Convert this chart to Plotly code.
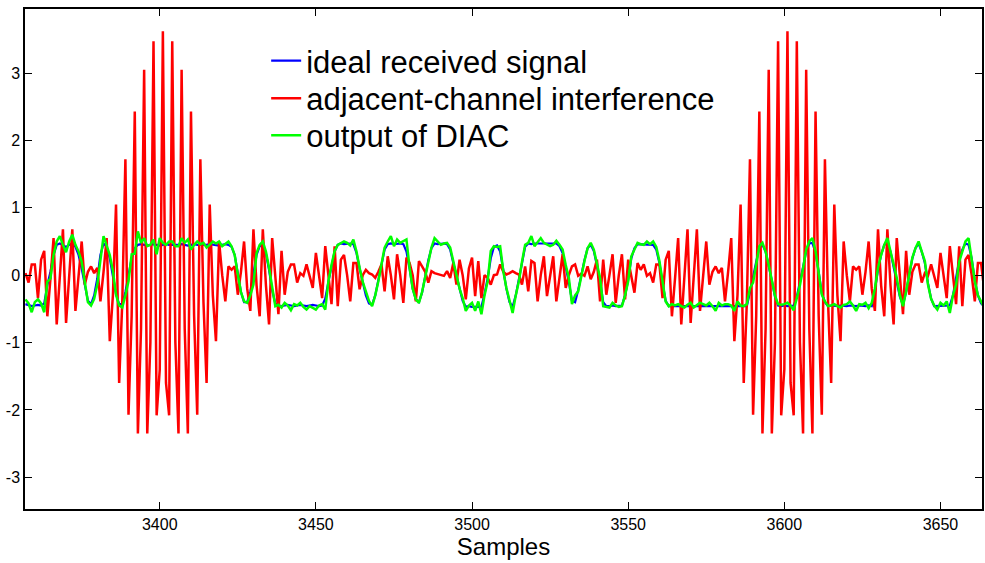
import plotly.graph_objects as go

# sample index of first value
start_sample = 3357

# ideal received signal (blue)
ideal = [
    -0.43, -0.45, -0.46, -0.45, -0.44, -0.45, -0.42, -0.15, 0.05, 0.30,
    0.45, 0.47, 0.45, 0.42, 0.45, 0.47, 0.42, 0.30, 0.10, -0.15,
    -0.38, -0.43, -0.30, -0.05, 0.30, 0.47, 0.42, 0.25, 0.00, -0.28,
    -0.43, -0.43, -0.25, 0.00, 0.25, 0.40, 0.45, 0.46, 0.45, 0.44,
    0.45, 0.46, 0.45, 0.44, 0.45, 0.46, 0.45, 0.45, 0.44, 0.45,
    0.46, 0.45, 0.44, 0.45, 0.46, 0.45, 0.45, 0.44, 0.45, 0.46,
    0.45, 0.45, 0.44, 0.45, 0.46, 0.45, 0.42, 0.30, 0.02, -0.25,
    -0.40, -0.40, -0.25, 0.00, 0.30, 0.43, 0.45, 0.32, 0.08, -0.22,
    -0.42, -0.45, -0.46, -0.45, -0.44, -0.45, -0.46, -0.45, -0.44, -0.45,
    -0.46, -0.45, -0.44, -0.45, -0.46, -0.45, -0.35, -0.10, 0.15, 0.35,
    0.45, 0.47, 0.46, 0.47, 0.47, 0.46, 0.33, 0.10, -0.12, -0.30,
    -0.42, -0.44, -0.30, -0.07, 0.17, 0.38, 0.46, 0.47, 0.46, 0.47,
    0.47, 0.46, 0.35, 0.10, -0.20, -0.36, -0.40, -0.26, -0.02, 0.22,
    0.40, 0.47, 0.46, 0.47, 0.47, 0.46, 0.38, 0.18, 0.00, -0.22,
    -0.38, -0.47, -0.46, -0.47, -0.47, -0.46, -0.47, -0.28, -0.05, 0.25,
    0.42, 0.44, 0.35, 0.08, -0.20, -0.40, -0.47, -0.30, -0.05, 0.22,
    0.42, 0.47, 0.46, 0.47, 0.47, 0.46, 0.47, 0.47, 0.46, 0.47,
    0.47, 0.43, 0.33, 0.12, -0.10, -0.38, -0.40, -0.22, 0.02, 0.22,
    0.40, 0.45, 0.36, 0.15, -0.08, -0.40, -0.46, -0.46, -0.45, -0.46,
    -0.46, -0.45, -0.30, -0.07, 0.25, 0.40, 0.46, 0.46, 0.45, 0.46,
    0.46, 0.45, 0.38, 0.18, -0.12, -0.38, -0.46, -0.46, -0.45, -0.46,
    -0.46, -0.45, -0.46, -0.46, -0.45, -0.46, -0.46, -0.45, -0.46, -0.46,
    -0.45, -0.46, -0.46, -0.45, -0.46, -0.46, -0.45, -0.46, -0.46, -0.45,
    -0.46, -0.46, -0.25, -0.05, 0.20, 0.42, 0.45, 0.35, 0.15, -0.08,
    -0.32, -0.45, -0.46, -0.45, -0.46, -0.45, -0.45, -0.32, -0.12, 0.12,
    0.35, 0.47, 0.48, 0.33, 0.05, -0.27, -0.40, -0.46, -0.45, -0.46,
    -0.46, -0.45, -0.46, -0.46, -0.45, -0.46, -0.46, -0.45, -0.46, -0.46,
    -0.45, -0.46, -0.22, 0.08, 0.30, 0.45, 0.47, 0.35, 0.12, -0.08,
    -0.32, -0.44, -0.25, 0.00, 0.25, 0.40, 0.47, 0.35, 0.18, -0.12,
    -0.35, -0.46, -0.46, -0.45, -0.46, -0.46, -0.45, -0.30, -0.05, 0.22,
    0.38, 0.47, 0.45, 0.25, -0.08, -0.30, -0.42, -0.46,
]

# adjacent-channel interference (red)
interference = [
    0.03, -0.11, 0.16, 0.16, -0.34, 0.23, 0.36, -0.61, -0.05, 0.55,
    -0.73, 0.00, 0.68, -0.71, -0.05, 0.68, -0.53, -0.05, 0.50, -0.14,
    0.05, 0.13, 0.03, 0.11, -0.39, 0.05, 0.55, -0.98, -0.30, 1.05,
    -1.60, -0.40, 1.72, -2.07, -0.60, 2.43, -2.35, -0.80, 3.05, -2.35,
    -1.00, 3.47, -2.08, -1.40, 3.62, -1.60, -2.08, 3.47, -1.00, -2.35,
    3.05, -0.80, -2.35, 2.43, -0.60, -2.07, 1.72, -0.40, -1.60, 1.05,
    -0.30, -0.98, 0.50, 0.00, -0.39, 0.13, 0.08, 0.13, -0.29, 0.05,
    0.50, -0.20, -0.53, 0.68, -0.15, -0.61, 0.68, -0.15, -0.73, 0.55,
    -0.05, -0.58, 0.36, -0.29, 0.05, 0.16, 0.16, -0.11, 0.03, -0.01,
    0.16, 0.00, -0.19, 0.33, 0.00, -0.34, 0.43, 0.00, -0.43, 0.43,
    -0.46, 0.23, 0.30, 0.00, -0.39, 0.18, 0.18, -0.21, 0.00, 0.08,
    0.03, 0.01, -0.04, 0.05, 0.16, -0.24, 0.28, 0.00, -0.36, 0.31,
    0.00, -0.41, 0.26, 0.18, 0.00, -0.39, 0.21, 0.13, 0.05, -0.11,
    0.06, 0.03, 0.02, 0.01, -0.01, 0.06, -0.04, 0.18, -0.14, 0.23,
    0.00, -0.36, 0.10, 0.26, -0.31, 0.21, -0.34, 0.00, -0.04, -0.14,
    0.00, 0.01, 0.16, 0.05, 0.01, 0.03, 0.06, 0.03, 0.01, -0.14,
    0.13, -0.24, 0.21, 0.18, -0.39, 0.00, 0.28, -0.31, 0.00, 0.28,
    -0.39, 0.00, 0.31, -0.19, 0.00, 0.13, 0.16, -0.01, 0.02, -0.01,
    0.13, -0.06, 0.05, 0.23, -0.39, 0.23, -0.29, 0.00, 0.31, -0.41,
    0.00, 0.31, -0.36, 0.23, 0.00, -0.26, 0.18, 0.08, 0.16, -0.01,
    0.03, -0.11, 0.16, 0.16, -0.34, 0.23, 0.36, -0.61, -0.05, 0.55,
    -0.73, 0.00, 0.68, -0.71, -0.05, 0.68, -0.53, -0.05, 0.50, -0.14,
    0.05, 0.13, 0.03, 0.11, -0.39, 0.05, 0.55, -0.98, -0.30, 1.05,
    -1.60, -0.40, 1.72, -2.07, -0.60, 2.43, -2.35, -0.80, 3.05, -2.35,
    -1.00, 3.47, -2.08, -1.40, 3.62, -1.60, -2.08, 3.47, -1.00, -2.35,
    3.05, -0.80, -2.35, 2.43, -0.60, -2.07, 1.72, -0.40, -1.60, 1.05,
    -0.30, -0.98, 0.50, 0.00, -0.39, 0.13, 0.08, 0.13, -0.29, 0.05,
    0.50, -0.20, -0.53, 0.68, -0.15, -0.61, 0.68, -0.15, -0.73, 0.55,
    -0.05, -0.58, 0.36, -0.29, 0.05, 0.16, 0.16, -0.11, 0.03, -0.01,
    0.16, 0.00, -0.19, 0.33, 0.00, -0.34, 0.43, 0.00, -0.43, 0.43,
    -0.46, 0.23, 0.30, 0.00, -0.39, 0.18, 0.18, -0.21,
]

# output of DIAC (green)
diac_output = [
    -0.36, -0.42, -0.55, -0.40, -0.36, -0.42, -0.55, -0.10, -0.05, 0.30,
    0.50, 0.58, 0.45, 0.34, 0.50, 0.60, 0.45, 0.35, 0.20, -0.10,
    -0.40, -0.45, -0.35, -0.14, 0.25, 0.58, 0.44, 0.30, 0.06, -0.29,
    -0.45, -0.48, -0.30, -0.09, 0.31, 0.32, 0.65, 0.48, 0.55, 0.43,
    0.45, 0.53, 0.31, 0.55, 0.48, 0.45, 0.50, 0.50, 0.43, 0.43,
    0.55, 0.48, 0.53, 0.38, 0.45, 0.50, 0.46, 0.48, 0.41, 0.45,
    0.50, 0.47, 0.50, 0.43, 0.46, 0.50, 0.43, 0.30, 0.01, -0.25,
    -0.39, -0.41, -0.30, -0.14, 0.33, 0.45, 0.50, 0.35, 0.11, -0.20,
    -0.46, -0.44, -0.48, -0.41, -0.45, -0.52, -0.43, -0.45, -0.41, -0.47,
    -0.51, -0.46, -0.48, -0.51, -0.45, -0.43, -0.51, -0.09, 0.15, 0.36,
    0.45, 0.48, 0.50, 0.48, 0.44, 0.53, 0.35, 0.11, -0.10, -0.24,
    -0.38, -0.46, -0.30, -0.09, 0.15, 0.41, 0.50, 0.58, 0.43, 0.53,
    0.48, 0.50, 0.53, 0.11, -0.20, -0.36, -0.41, -0.25, -0.04, 0.20,
    0.41, 0.55, 0.50, 0.45, 0.47, 0.48, 0.41, 0.20, 0.01, -0.20,
    -0.34, -0.53, -0.45, -0.41, -0.53, -0.39, -0.58, -0.30, -0.09, 0.36,
    0.43, 0.42, 0.43, 0.06, -0.19, -0.39, -0.56, -0.30, -0.09, 0.20,
    0.45, 0.48, 0.58, 0.43, 0.50, 0.55, 0.48, 0.45, 0.43, 0.45,
    0.51, 0.45, 0.38, 0.15, -0.04, -0.43, -0.30, -0.24, 0.00, 0.21,
    0.40, 0.48, 0.38, 0.15, -0.04, -0.46, -0.47, -0.48, -0.41, -0.45,
    -0.47, -0.46, -0.30, -0.09, 0.28, 0.38, 0.48, 0.46, 0.45, 0.50,
    0.46, 0.50, 0.42, 0.21, -0.10, -0.39, -0.46, -0.43, -0.45, -0.43,
    -0.46, -0.48, -0.44, -0.41, -0.48, -0.45, -0.41, -0.43, -0.45, -0.41,
    -0.46, -0.53, -0.41, -0.45, -0.43, -0.43, -0.45, -0.53, -0.39, -0.45,
    -0.46, -0.43, -0.19, -0.11, 0.15, 0.43, 0.48, 0.35, 0.15, -0.06,
    -0.30, -0.43, -0.44, -0.43, -0.41, -0.45, -0.52, -0.34, -0.15, 0.10,
    0.38, 0.50, 0.55, 0.36, 0.06, -0.29, -0.39, -0.46, -0.45, -0.43,
    -0.46, -0.48, -0.44, -0.43, -0.39, -0.45, -0.53, -0.43, -0.44, -0.41,
    -0.49, -0.41, -0.20, 0.11, 0.30, 0.45, 0.55, 0.36, 0.15, -0.04,
    -0.30, -0.46, -0.24, 0.00, 0.26, 0.40, 0.50, 0.35, 0.21, -0.14,
    -0.35, -0.45, -0.51, -0.41, -0.45, -0.39, -0.56, -0.30, -0.14, 0.20,
    0.36, 0.50, 0.55, 0.26, -0.09, -0.30, -0.39, -0.48,
]

x_tick_vals = [3400, 3450, 3500, 3550, 3600, 3650]
y_tick_vals = [-3, -2, -1, 0, 1, 2, 3]
y_tick_text = ["-3", "-2", "-1", "0", "1", "2", "3"]

def samples(n):
    return list(range(start_sample, start_sample + n))

FONT = "Liberation Sans, Arial, Helvetica, sans-serif"

fig = go.Figure()
fig.add_trace(go.Scatter(x=samples(len(ideal)), y=ideal, mode="lines",
                         name="ideal received signal", legend="legend",
                         line=dict(color="#0000FF", width=2.2)))
fig.add_trace(go.Scatter(x=samples(len(interference)), y=interference, mode="lines",
                         name="adjacent-channel interference", legend="legend2",
                         line=dict(color="#FF0000", width=2.5)))
fig.add_trace(go.Scatter(x=samples(len(diac_output)), y=diac_output, mode="lines",
                         name="output of DIAC", legend="legend3",
                         line=dict(color="#00FF00", width=2.5)))

axis_common = dict(showline=True, linecolor="black", linewidth=1.5, mirror="ticks",
                   ticks="inside", ticklen=7, tickcolor="black", tickwidth=1,
                   showgrid=False, zeroline=False,
                   tickfont=dict(family=FONT, size=16, color="black"))

def legend_box(ypos):
    return dict(x=0.252, y=ypos, xanchor="left", yanchor="middle",
                bgcolor="rgba(0,0,0,0)", borderwidth=0,
                font=dict(family=FONT, size=31, color="black"),
                itemwidth=30, tracegroupgap=0)

fig.update_layout(
    width=985, height=563,
    margin=dict(l=25, r=1, t=9, b=54),
    paper_bgcolor="white", plot_bgcolor="white",
    font=dict(family=FONT, color="black"),
    showlegend=True,
    legend=legend_box(0.896),
    legend2=legend_box(0.821),
    legend3=legend_box(0.747),
    xaxis=dict(range=[3356.85, 3663.3], tickvals=x_tick_vals,
               title=dict(text="Samples", font=dict(family=FONT, size=24, color="black"),
                          standoff=0),
               **axis_common),
    yaxis=dict(range=[-3.47, 3.95], tickvals=y_tick_vals, ticktext=y_tick_text,
               **axis_common),
)

fig.write_html("out.html")
